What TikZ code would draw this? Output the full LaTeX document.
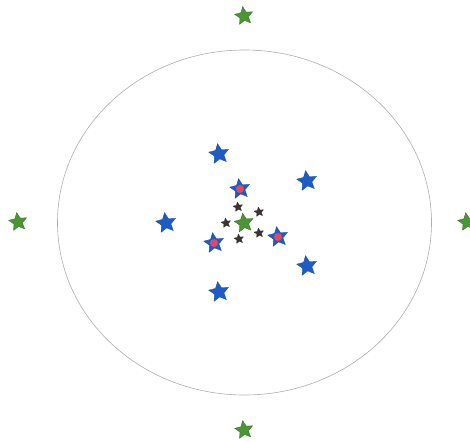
\documentclass[tikz,border=0pt]{standalone}
\usetikzlibrary{shapes.geometric}
\definecolor{starblue}{RGB}{28,92,196}
\definecolor{stargreen}{RGB}{74,150,52}
\definecolor{starred}{RGB}{226,72,96}
\definecolor{stardark}{RGB}{60,52,50}
\tikzset{
  starbase/.style={star, star points=5, star point ratio=2.1, inner sep=0pt, shape border rotate=8},
  bluestar/.style={starbase, minimum size=21pt, fill=starblue, draw=starblue!80!black, line width=0.3pt},
  greenstar/.style={starbase, minimum size=19pt, fill=stargreen, draw=stargreen!70!black, line width=0.3pt},
  darkstar/.style={starbase, minimum size=10pt, fill=stardark, draw=stardark!60!black, line width=0.2pt},
}
\begin{document}
\begin{tikzpicture}[x=1pt,y=-1pt]
    \useasboundingbox (0,0) rectangle (470,441);

    % boundary
    \draw[gray!65, line width=0.6pt] (244.5,222.5) ellipse [x radius=187pt, y radius=172.5pt];

    % outer green stars
    \node[greenstar] (gtop) at (244,16) {};
    \node[greenstar] (gleft) at (18,222) {};
    \node[greenstar] (gright) at (467,222) {};
    \node[greenstar] (gbottom) at (244,430) {};

    % blue ring
    \foreach \n/\x/\y in {b1/219/154, b2/307/181, b3/166/223, b4/307/266, b5/219/292}
      \node[bluestar] (\n) at (\x,\y) {};

    % blue stars with red core
    \foreach \n/\x/\y in {r1/240/189, r2/214/243, r3/278/237} {
      \node[bluestar] (\n) at (\x,\y) {};
      \fill[starred] (\n.center) circle (4pt);
    }

    % small dark ring
    \foreach \n/\x/\y in {d1/238/207, d2/259/212, d3/226/223, d4/239/239, d5/259/233}
      \node[darkstar] (\n) at (\x,\y) {};

    % centre
    \node[greenstar, minimum size=20pt] (gc) at (244,223) {};
  \end{tikzpicture}
\end{document}
